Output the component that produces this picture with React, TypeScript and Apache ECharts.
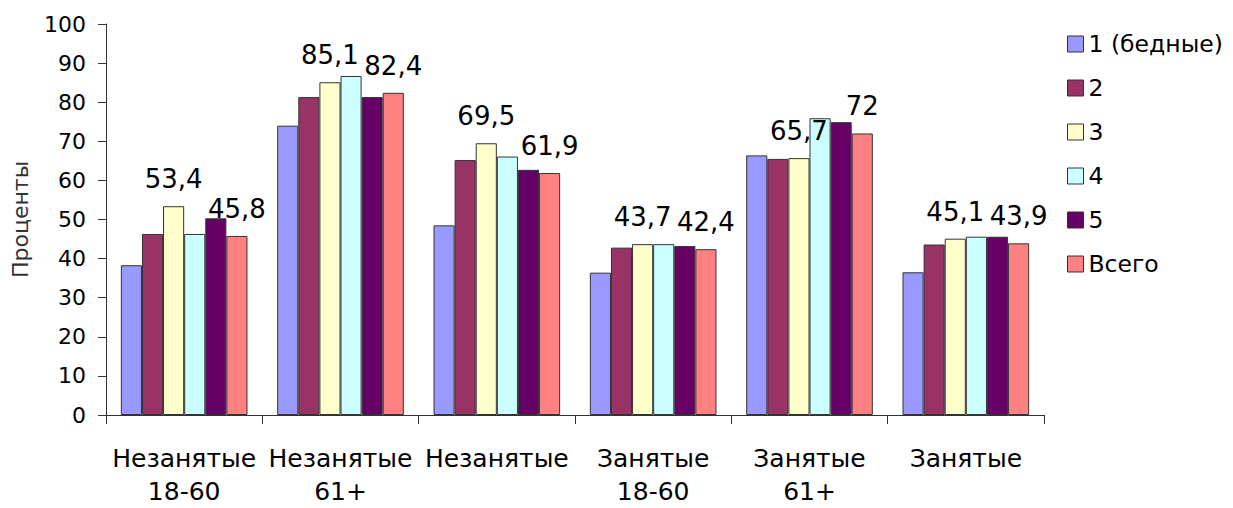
import React, { useEffect, useRef } from "react";
import * as echarts from "echarts";

const categories = ["Незанятые\n18-60", "Незанятые\n61+", "Незанятые", "Занятые\n18-60", "Занятые\n61+", "Занятые"];
const seriesNames = ["1 (бедные)", "2", "3", "4", "5", "Всего"];
const q1 = [38.3, 74.0, 48.5, 36.4, 66.4, 36.5];
const q2 = [46.3, 81.3, 65.2, 42.8, 65.5, 43.6];
const q3 = [53.4, 85.1, 69.5, 43.7, 65.7, 45.1];
const q4 = [46.3, 86.7, 66.1, 43.7, 75.9, 45.6];
const q5 = [50.3, 81.3, 62.7, 43.2, 74.9, 45.6];
const total = [45.8, 82.4, 61.9, 42.4, 72, 43.9];
const seriesValues = [q1, q2, q3, q4, q5, total];
const labelledSeries = [2, 5];
const colors = ["#9999FF", "#993366", "#FFFFCC", "#CCFFFF", "#660066", "#FF8080"];
const yTicks = { min: 0, max: 100, interval: 10 };

const FONT = "DejaVu Sans";

export default function App() {
  const ref = useRef<HTMLDivElement>(null);
  useEffect(() => {
    if (!ref.current) return;
    const chart = echarts.init(ref.current, undefined, { renderer: "svg" });
    chart.setOption({
      animation: false,
      backgroundColor: "#ffffff",
      textStyle: { fontFamily: FONT },
      grid: { left: 106, right: 189, top: 24, bottom: 93, containLabel: false },
      legend: {
        orient: "vertical",
        left: 1062,
        top: 27,
        itemWidth: 16,
        itemHeight: 16,
        itemGap: 20,
        icon: "rect",
        data: seriesNames,
        itemStyle: { borderColor: "#333333", borderWidth: 1 },
        textStyle: { fontFamily: FONT, fontSize: 23.5, color: "#000", lineHeight: 24 },
      },
      xAxis: {
        type: "category",
        data: categories,
        axisLine: { show: true, lineStyle: { color: "#333", width: 1 } },
        axisTick: { show: true, length: 9, lineStyle: { color: "#333" } },
        axisLabel: { fontFamily: FONT, fontSize: 25, color: "#000", lineHeight: 33, margin: 27, interval: 0 },
      },
      yAxis: {
        type: "value",
        min: yTicks.min,
        max: yTicks.max,
        interval: yTicks.interval,
        name: "Проценты",
        nameLocation: "middle",
        nameGap: 75,
        nameRotate: 90,
        nameTextStyle: { fontFamily: FONT, fontSize: 22, color: "#333" },
        splitLine: { show: false },
        axisLine: { show: true, lineStyle: { color: "#333", width: 1 } },
        axisTick: { show: true, length: 8, lineStyle: { color: "#333" } },
        axisLabel: { fontFamily: FONT, fontSize: 22, color: "#000", margin: 20 },
      },
      series: seriesNames.map((name, i) => ({
        type: "bar",
        name,
        data: seriesValues[i],
        barGap: "0%",
        barCategoryGap: "19%",
        itemStyle: { color: colors[i], borderColor: "#333333", borderWidth: 1 },
        label: {
          show: labelledSeries.includes(i),
          position: "top",
          distance: 14,
          fontFamily: FONT,
          fontSize: 26,
          color: "#000",
          formatter: (p: any) => String(p.value).replace(".", ","),
        },
      })),
    });
    return () => chart.dispose();
  }, []);
  return <div ref={ref} style={{ position: "fixed", left: 0, top: 0, width: 1233, height: 508 }} />;
}
